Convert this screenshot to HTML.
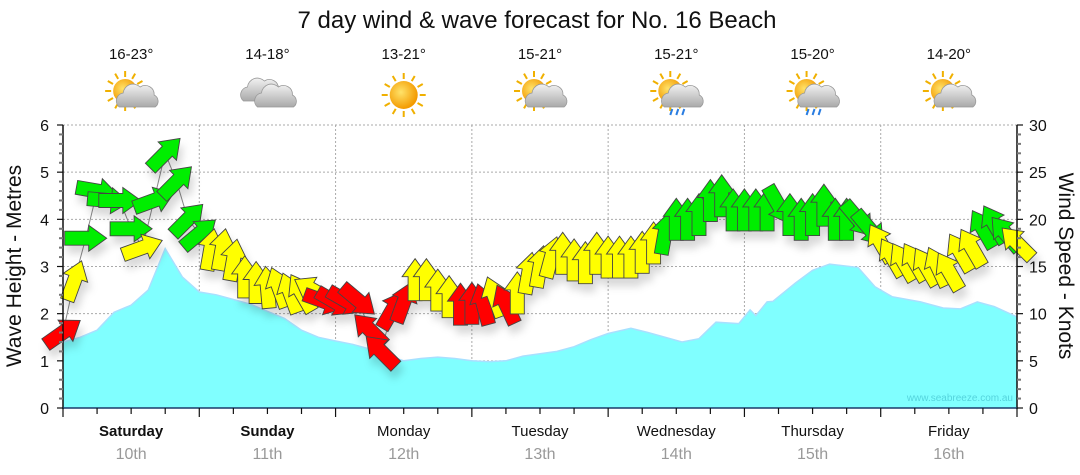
<!DOCTYPE html>
<html><head><meta charset="utf-8"><style>
body{margin:0;background:#fff;width:1080px;height:475px;overflow:hidden;font-family:"Liberation Sans",sans-serif}
svg{display:block}
</style></head><body>
<svg id="chart" width="1080" height="475" font-family="Liberation Sans, sans-serif">
<defs>
<filter id="sh" x="-50%" y="-50%" width="200%" height="200%"><feDropShadow dx="3" dy="8" stdDeviation="4" flood-color="#000" flood-opacity="0.15"/></filter>
<radialGradient id="sunG" cx="40%" cy="40%" r="60%"><stop offset="0" stop-color="#ffe36a"/><stop offset="1" stop-color="#f39a00"/></radialGradient>
<linearGradient id="cloudG" x1="0" y1="0" x2="0" y2="1"><stop offset="0" stop-color="#f2f2f2"/><stop offset="1" stop-color="#a9a9a9"/></linearGradient>
</defs>
<text x="537" y="28" text-anchor="middle" font-size="24" fill="#111">7 day wind &amp; wave forecast for No. 16 Beach</text>
<g id="grid"></g>
<g id="wave"></g>
<g id="wind"></g>
<g id="axes"></g>
<g id="days"></g>
<text x="1013" y="401" text-anchor="end" font-size="10" fill="#55d4dd">www.seabreeze.com.au</text>
<text transform="translate(21,266) rotate(-90)" text-anchor="middle" font-size="21" fill="#111">Wave Height - Metres</text>
<text transform="translate(1059,266) rotate(90)" text-anchor="middle" font-size="21" fill="#111">Wind Speed - Knots</text>
</svg>
<script>
const dayNames=["Saturday","Sunday","Monday","Tuesday","Wednesday","Thursday","Friday"];
const dayDates=["10th","11th","12th","13th","14th","15th","16th"];
const dayBold=[true,true,false,false,false,false,false];
const dayTemps=["16-23°","14-18°","13-21°","15-21°","15-21°","15-20°","14-20°"];
const dayIcons=["suncloud","cloud","sun","suncloud","rain","rain","suncloud"];
const waveTicks=[0,1,2,3,4,5,6];
const windTicks=[0,5,10,15,20,25,30];
const waveHours=[0,3,6,9,12,15,18,21,24,27,30,33,36,39,42,45,48,51,54,57,60,63,66,69,72,75,78,81,84,87,90,93,96,100,103,109,112,115,119,121,122,124,125,129,132,135,140,143,146,151,155,158,161,164,168];
const waveHeights=[1.4,1.5,1.65,2.03,2.18,2.5,3.38,2.78,2.46,2.4,2.3,2.2,2.05,1.9,1.65,1.5,1.42,1.35,1.25,1.12,1.0,1.05,1.08,1.05,1.0,0.98,1.0,1.1,1.15,1.2,1.3,1.45,1.58,1.69,1.6,1.4,1.47,1.82,1.79,2.08,1.96,2.25,2.26,2.65,2.92,3.05,2.98,2.57,2.36,2.25,2.12,2.1,2.25,2.15,1.93];
const windHours=[0,2,4,6,8,10,12,14,16,18,20,22,24,26,28,30,32,34,36,38,40,42,44,46,48,50,52,54,56,58,60,62,64,66,68,70,72,74,76,78,80,82,84,86,88,90,92,94,96,98,100,102,104,106,108,110,112,114,116,118,120,122,124,126,128,130,132,134,136,138,140,142,144,146,148,150,152,154,156,158,160,162,164,166,168];
const windSpeeds=[8,13.5,18,23,22,22,19,17,22,27,24,20,18.5,16.8,16.8,15.7,13.9,13.3,12.8,12.8,12.2,12.2,12.5,11.3,11.2,11.3,11.4,8.3,6,10.4,11.2,13.6,13.6,12.5,11.8,11,11.1,11,11.8,11,12.2,14.3,15,16,16.4,15.7,15.4,16.4,16,16,16,16.5,17.5,18.5,20,20,20.5,22,22.5,21,21,21,21,21.5,20.5,20,20.5,21.5,20,20,20,19,17.5,16,15.5,15.5,15,15,14.5,16.5,17,19,19.5,18.5,17.5];
const windDirs=[55,20,90,100,95,90,90,70,70,45,45,45,50,10,10,10,0,0,355,340,340,330,300,110,120,120,130,315,315,30,20,0,0,0,0,0,0,345,340,335,0,10,10,15,0,0,0,0,0,0,0,0,0,10,0,0,0,0,0,0,0,0,0,150,0,0,0,0,0,0,140,140,330,330,330,330,330,335,330,330,330,330,330,320,315];

const NS="http://www.w3.org/2000/svg";
const X0=63,X1=1017,Y0=408,Y1=125;
const xH=h=>X0+h*(X1-X0)/168;
const yW=v=>Y0-v*(Y0-Y1)/6;
const yK=v=>Y0-v*(Y0-Y1)/30;
function mk(tag,attrs,parent){const e=document.createElementNS(NS,tag);for(const k in attrs)e.setAttribute(k,attrs[k]);parent.appendChild(e);return e;}
const grid=document.getElementById('grid'),wave=document.getElementById('wave'),wind=document.getElementById('wind'),axes=document.getElementById('axes'),days=document.getElementById('days');

waveTicks.forEach(t=>{if(t>0){const l=mk('line',{x1:X0,x2:X1,y1:yW(t),y2:yW(t),stroke:'#aaa','stroke-dasharray':'2,2','stroke-width':1},grid);

}});
for(let d=1;d<7;d++){const l=mk('line',{x1:xH(d*24),x2:xH(d*24),y1:Y1,y2:Y0,stroke:'#aaa','stroke-dasharray':'2,2','stroke-width':1},grid);

}

let d='M'+xH(waveHours[0])+','+Y0;
waveHours.forEach((h,i)=>{d+=' L'+xH(h).toFixed(1)+','+yW(waveHeights[i]).toFixed(1);});
d+=' L'+xH(waveHours[waveHours.length-1])+','+Y0+' Z';
const wa=mk('path',{d:d,fill:'#80ffff',stroke:'none'},wave);


let dl='';waveHours.forEach((h,i)=>{dl+=(i?' L':'M')+xH(h).toFixed(1)+','+yW(waveHeights[i]).toFixed(1);});
const wl=mk('path',{d:dl,fill:'none',stroke:'#a8e0ff','stroke-width':1.5},wave);



let wd='';windHours.forEach((h,i)=>{wd+=(i?' L':'M')+xH(h).toFixed(1)+','+yK(windSpeeds[i]).toFixed(1);});
const cl=mk('path',{d:wd,fill:'none',stroke:'#888','stroke-width':1},wind);


const ag=mk('g',{filter:'url(#sh)'},wind);
windHours.forEach((h,i)=>{
  const s=windSpeeds[i];
  const col=s<11.5?'#ff0000':(s<18?'#ffff00':'#00ee00');
  const p=mk('polygon',{points:'0,-21 13,-3 7,-3 7,21 -7,21 -7,-3 -13,-3',fill:col,stroke:'#444','stroke-width':0.9,
    transform:'translate('+xH(h).toFixed(1)+','+yK(s).toFixed(1)+') rotate('+windDirs[i]+')'},ag);
  
  
});

mk('line',{x1:X0,x2:X0,y1:Y1,y2:Y0+1,stroke:'#111','stroke-width':1.5},axes);
mk('line',{x1:X1,x2:X1,y1:Y1,y2:Y0+1,stroke:'#111','stroke-width':1.5},axes);
mk('line',{x1:X0,x2:X1,y1:Y0,y2:Y0,stroke:'#1a3a6a','stroke-width':1.5},axes);
for(let v=0;v<=6.001;v+=0.2){const y=yW(v);const maj=Math.abs(v-Math.round(v))<0.01;mk('line',{x1:X0-(maj?6:4),x2:X0,y1:y,y2:y,stroke:maj?'#111':'#777','stroke-width':maj?1.2:2},axes);}
for(let v=0;v<=30;v++){const y=yK(v);const maj=v%5==0;mk('line',{x1:X1,x2:X1+(maj?6:4),y1:y,y2:y,stroke:maj?'#111':'#777','stroke-width':maj?1.2:2},axes);}
waveTicks.forEach(t=>{const e=mk('text',{x:49,y:yW(t)+6,'text-anchor':'end','font-size':16,fill:'#111'},axes);e.textContent=t;

});
windTicks.forEach(t=>{const e=mk('text',{x:1029,y:yK(t)+6,'text-anchor':'start','font-size':16,fill:'#111'},axes);e.textContent=t;

});
for(let h=0;h<=168;h+=6){const maj=h%24==0;mk('line',{x1:xH(h),x2:xH(h),y1:Y0,y2:Y0+(maj?9:6),stroke:'#111','stroke-width':1.2},axes);}

function icon(type,cx,cy,g){
  const sun=(r,x,y)=>{for(let a=0;a<360;a+=30){mk('line',{x1:x+Math.cos(a*Math.PI/180)*(r+2),y1:y+Math.sin(a*Math.PI/180)*(r+2),x2:x+Math.cos(a*Math.PI/180)*(r+8),y2:y+Math.sin(a*Math.PI/180)*(r+8),stroke:'#f0b000','stroke-width':2},g);}mk('circle',{cx:x,cy:y,r:r,fill:'url(#sunG)'},g);};
  const cloud=(x,y,s)=>{mk('path',{d:`M${x-18*s},${y+8*s} a8 8 0 0 1 4,-14 a10 10 0 0 1 17,-6 a9 9 0 0 1 14,8 a7 7 0 0 1 1,12 z`,fill:'url(#cloudG)',stroke:'#999','stroke-width':0.8},g);};
  if(type=='sun'){sun(14,cx,cy);}
  else if(type=='cloud'){cloud(cx-6,cy-2,1);cloud(cx+8,cy+4,1);}
  else {sun(12,cx-6,cy-4);cloud(cx+6,cy+4,1);
    if(type=='rain'){for(let k=0;k<3;k++){mk('line',{x1:cx+k*6-4,y1:cy+14,x2:cx+k*6-6,y2:cy+20,stroke:'#2a7de1','stroke-width':2},g);}}}
}
for(let i=0;i<7;i++){
  const cx=xH(i*24+12);
  const n=mk('text',{x:cx,y:436,'text-anchor':'middle','font-size':15,fill:'#111','font-weight':dayBold[i]?'bold':'normal'},days);n.textContent=dayNames[i];
  
  
  const dt=mk('text',{x:cx,y:459,'text-anchor':'middle','font-size':16,fill:'#999'},days);dt.textContent=dayDates[i];
  
  
  const tp=mk('text',{x:cx,y:59,'text-anchor':'middle','font-size':15,fill:'#111'},days);tp.textContent=dayTemps[i];
  
  
  const g=mk('g',{},days);
  
  
  icon(dayIcons[i],cx,95,g);
}
</script>
</body></html>
